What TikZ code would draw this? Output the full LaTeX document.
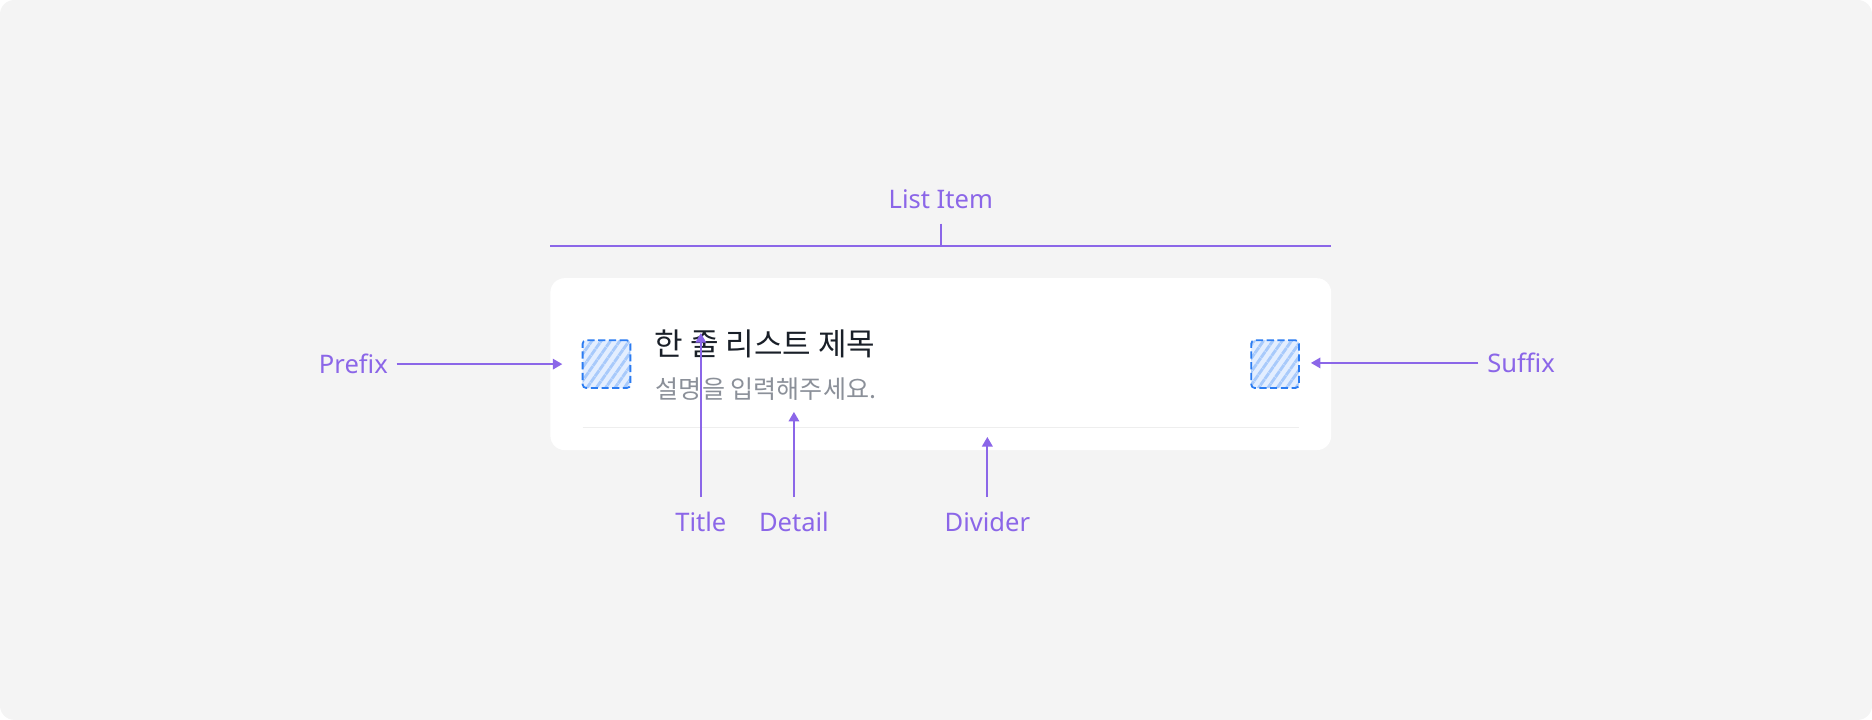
\documentclass[tikz,border=0pt]{standalone}
\usepackage{fontspec}
\setmainfont{Noto Sans}
\newfontfamily\krfont{Noto Sans CJK KR}
\usepackage{tikz}
\usetikzlibrary{arrows.meta}
\usetikzlibrary{patterns.meta}
\usetikzlibrary{positioning}

\definecolor{bgGray}{HTML}{F4F4F4}
\definecolor{guide}{HTML}{8B66E8}
\definecolor{slotBlue}{HTML}{2B7CF2}
\definecolor{slotFill}{HTML}{E3EEFF}
\definecolor{slotHatch}{HTML}{A8CAFB}
\definecolor{titleInk}{HTML}{191F28}
\definecolor{detailInk}{HTML}{8B9099}
\definecolor{dividerGray}{HTML}{EEEEEE}

\begin{document}
\begin{tikzpicture}[x=0.5pt, y=-0.5pt, >={Triangle[length=4pt,width=4.4pt]}]
            \tikzstyle{guide label}=[text=guide, font=\fontsize{10.7}{12}\selectfont, inner xsep=3.5pt, inner ysep=6pt]
            \tikzstyle{guide line}=[draw=guide, line width=0.8pt]
            \tikzstyle{slot}=[draw=slotBlue, line width=0.75pt, dash pattern=on 3pt off 1.5pt, rounded corners=1.5pt, minimum size=20pt, inner sep=0pt, preaction={fill=slotFill}, pattern={Lines[angle=55,distance=3.2pt,line width=1.2pt]}, pattern color=slotHatch]

            \useasboundingbox (0,0) rectangle (1568,603);
            \fill[bgGray, rounded corners=6pt] (0,0) rectangle (1568,603);

            % the list item itself
            \node[fill=white, rounded corners=6pt, minimum width=327pt, minimum height=72pt, inner sep=0pt] (card) at (788,305) {};
            \node[slot] (prefix) at (508,305) {};
            \node[slot] (suffix) at (1068,305) {};
            \node[anchor=west, inner sep=0pt, text=titleInk, font=\krfont\fontsize{13}{15}\selectfont] (title) at (548,288) {한 줄 리스트 제목};
            \node[anchor=west, inner sep=0pt, text=detailInk, font=\krfont\fontsize{10.5}{13}\selectfont] (detail) at (549,326) {설명을 입력해주세요.};
            \coordinate (divl) at (488,358);
            \coordinate (divr) at (1088,358);
            \draw[dividerGray, line width=0.6pt] (divl) -- (divr);

            % callouts
            \coordinate (brl) at (461,206);
            \coordinate (brr) at (1115,206);
            \node[guide label] (llist) at (788,167) {List Item};
            \node[guide label] (lprefix) at (296,305) {Prefix};
            \node[guide label] (lsuffix) at (1274,304) {Suffix};
            \node[guide label] (ltitle) at (587,437) {Title};
            \node[guide label] (ldetail) at (665,437) {Detail};
            \node[guide label] (ldivider) at (827,437) {Divider};

            \coordinate (prefixtip) at (471,305);
            \coordinate (suffixtip) at (1098,304);
            \coordinate (titletip) at (587,279);
            \coordinate (detailtip) at (665,345);
            \coordinate (dividertip) at (827,366);

            \draw[guide line] (brl) -- (brr);
            \draw[guide line] (llist) -- (llist |- brl);
            \draw[guide line, ->] (lprefix) -- (prefixtip);
            \draw[guide line, ->] (lsuffix) -- (suffixtip);
            \draw[guide line, ->] (ltitle) -- (titletip);
            \draw[guide line, ->] (ldetail) -- (detailtip);
            \draw[guide line, ->] (ldivider) -- (dividertip);
        \end{tikzpicture}
\end{document}
